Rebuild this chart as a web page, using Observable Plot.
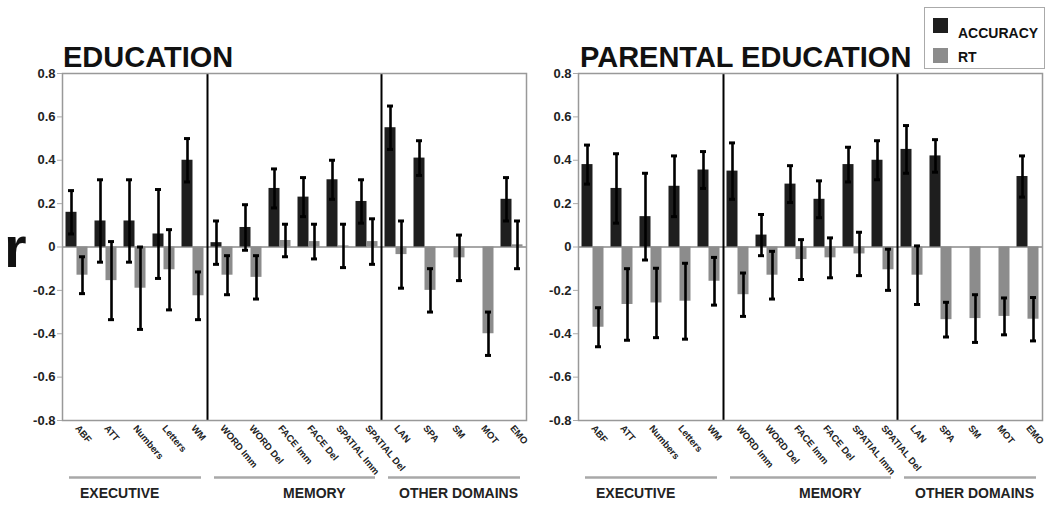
<!DOCTYPE html>
<html>
<head>
<meta charset="utf-8">
<script src="https://cdn.jsdelivr.net/npm/d3@7"></script>
<script src="https://cdn.jsdelivr.net/npm/@observablehq/plot@0.6"></script>
<style>
  html, body { margin: 0; padding: 0; background: #fff; }
  #wrap { position: relative; width: 1050px; height: 506px; overflow: hidden; font-family: "Liberation Sans", Arial, sans-serif; }
  #wrap > svg, #wrap > div { position: absolute; top: 0; }
</style>
</head>
<body>
<div id="wrap"></div>
<script>
// ---------- data ----------
const categories = ["ABF","ATT","Numbers","Letters","WM","WORD Imm","WORD Del","FACE Imm","FACE Del","SPATIAL Imm","SPATIAL Del","LAN","SPA","SM","MOT","EMO"];

// EDUCATION
const eduAccuracy    = [0.16, 0.12, 0.12, 0.06, 0.40, 0.02, 0.09, 0.27, 0.23, 0.31, 0.21, 0.55, 0.41, null, null, 0.22];
const eduAccuracyErr = [0.10, 0.19, 0.19, 0.205, 0.10, 0.10, 0.105, 0.09, 0.09, 0.09, 0.10, 0.10, 0.08, null, null, 0.10];
const eduRT          = [-0.13, -0.155, -0.19, -0.105, -0.225, -0.13, -0.14, 0.03, 0.025, 0.005, 0.025, -0.035, -0.20, -0.05, -0.40, 0.01];
const eduRTErr       = [0.085, 0.18, 0.19, 0.185, 0.11, 0.09, 0.10, 0.075, 0.08, 0.10, 0.105, 0.155, 0.10, 0.105, 0.10, 0.11];

// PARENTAL EDUCATION
const parAccuracy    = [0.38, 0.27, 0.14, 0.28, 0.355, 0.35, 0.055, 0.29, 0.22, 0.38, 0.40, 0.45, 0.42, null, null, 0.325];
const parAccuracyErr = [0.09, 0.16, 0.20, 0.14, 0.085, 0.13, 0.095, 0.085, 0.085, 0.08, 0.09, 0.11, 0.075, null, null, 0.095];
const parRT          = [-0.37, -0.265, -0.258, -0.25, -0.158, -0.22, -0.13, -0.058, -0.05, -0.032, -0.105, -0.13, -0.335, -0.33, -0.32, -0.333];
const parRTErr       = [0.09, 0.165, 0.16, 0.175, 0.11, 0.10, 0.11, 0.092, 0.092, 0.10, 0.095, 0.135, 0.08, 0.11, 0.085, 0.10];

const yTicks = [-0.8, -0.6, -0.4, -0.2, 0, 0.2, 0.4, 0.6, 0.8];
const dividers = ["WORD Imm", "LAN"];
const groupNames = ["EXECUTIVE", "MEMORY", "OTHER DOMAINS"];
const groupFirst = ["ABF", "WORD Imm", "LAN"];
const groupLast  = ["WM", "SPATIAL Del", "EMO"];
const groupLabelAt = ["ABF", "FACE Imm", "LAN"];
const panelTitles = ["EDUCATION", "PARENTAL EDUCATION"];
const seriesNames = ["ACCURACY", "RT"];

// ---------- drawing ----------
const FONT = '"Liberation Sans", Arial, sans-serif';
const ACC = "#1e1e1e", RTC = "#8c8c8c";

function rows(vals, errs) {
  return categories.map((c, i) => ({cat: c, v: vals[i], e: errs[i]})).filter(d => d.v != null);
}
const groups = groupNames.map((n, i) => ({name: n, first: groupFirst[i], last: groupLast[i], at: groupLabelAt[i]}));

function panel(acc, accErr, rt, rtErr, width, marginLeft, marginRight) {
  const A = rows(acc, accErr), R = rows(rt, rtErr);
  const err = (data, dx, capL, capR) => [
    Plot.ruleX(data, {x: "cat", y1: d => d.v - d.e, y2: d => d.v + d.e, dx, stroke: "#000", strokeWidth: 2.6}),
    Plot.tickY(data, {x: "cat", y: d => d.v + d.e, insetLeft: capL, insetRight: capR, stroke: "#000", strokeWidth: 3}),
    Plot.tickY(data, {x: "cat", y: d => d.v - d.e, insetLeft: capL, insetRight: capR, stroke: "#000", strokeWidth: 3})
  ];
  return Plot.plot({
    width, height: 506,
    marginLeft, marginRight, marginTop: 73, marginBottom: 86,
    x: {type: "band", domain: categories, padding: 0, label: null},
    y: {domain: [-0.8, 0.8], label: null},
    style: {fontFamily: FONT, background: "transparent", color: "#222"},
    marks: [
      Plot.ruleY([0], {stroke: "#8a8a8a", strokeWidth: 1.5}),
      Plot.barY(A, {x: "cat", y: "v", fill: ACC, insetLeft: 3.5, insetRight: 14.5}),
      Plot.barY(R, {x: "cat", y: "v", fill: RTC, insetLeft: 14.5, insetRight: 3.5}),
      ...err(A, -5.5, 6, 17),
      ...err(R, 5.5, 17, 6),
      Plot.ruleX(dividers, {x: d => d, dx: -14.5, stroke: "#000", strokeWidth: 2}),
      Plot.frame({stroke: "#999", strokeWidth: 1.5}),
      Plot.axisY({ticks: yTicks, label: null, tickFormat: d => d === 0 ? "0" : d.toFixed(1).replace("\u2212", "-"),
                  fontSize: 13, fontWeight: "bold", tickSize: 5, tickPadding: 2, stroke: "#aaa", fill: "#222"}),
      Plot.axisX({label: null, tickRotate: 50, tickSize: 0, tickPadding: 6, fontSize: 9.5, fontWeight: "bold", textAnchor: "start", fill: "#222"}),
      Plot.ruleY(groups, {x1: "first", x2: "last", y: -1.063, insetLeft: 7, insetRight: 6, stroke: "#a8a8a8", strokeWidth: 2.5}),
      Plot.text(groups, {x: "at", text: "name", frameAnchor: "bottom", dy: 77, dx: 3, lineAnchor: "bottom",
                         textAnchor: "start", fontSize: 14, fontWeight: "bold", fill: "#222"})
    ]
  });
}

const wrap = document.getElementById("wrap");
const left = panel(eduAccuracy, eduAccuracyErr, eduRT, eduRTErr, 530, 62, 4);
left.style.left = "0px";
wrap.appendChild(left);
const right = panel(parAccuracy, parAccuracyErr, parRT, parRTErr, 520, 48, 8);
right.style.left = "530px";
wrap.appendChild(right);

// overlay: titles, "r", legend
const ov = d3.select(wrap).append("svg").attr("width", 1050).attr("height", 506)
  .style("left", "0px").style("pointer-events", "none").attr("font-family", FONT);
ov.selectAll("text.title").data(panelTitles).join("text").attr("class", "title")
  .attr("x", (d, i) => i === 0 ? 63 : 580).attr("y", 67)
  .attr("font-size", 29).attr("font-weight", "bold").attr("fill", "#111").text(d => d);
ov.append("text").attr("x", 4).attr("y", 267).attr("font-size", 58).attr("font-weight", "bold").attr("fill", "#111").text("r");
const lg = ov.append("g");
lg.append("rect").attr("x", 924.5).attr("y", 7.5).attr("width", 120).attr("height", 61).attr("fill", "#fff").attr("stroke", "#aaa");
const lgItems = lg.selectAll("g.item").data(seriesNames).join("g").attr("class", "item");
lgItems.append("rect").attr("x", 933).attr("y", (d, i) => 18 + i * 30).attr("width", 15).attr("height", 15)
  .attr("fill", (d, i) => i === 0 ? ACC : RTC);
lgItems.append("text").attr("x", 958).attr("y", (d, i) => 38 + i * 24).attr("font-size", 14).attr("font-weight", "bold")
  .attr("fill", "#111").text(d => d);
</script>
</body>
</html>
